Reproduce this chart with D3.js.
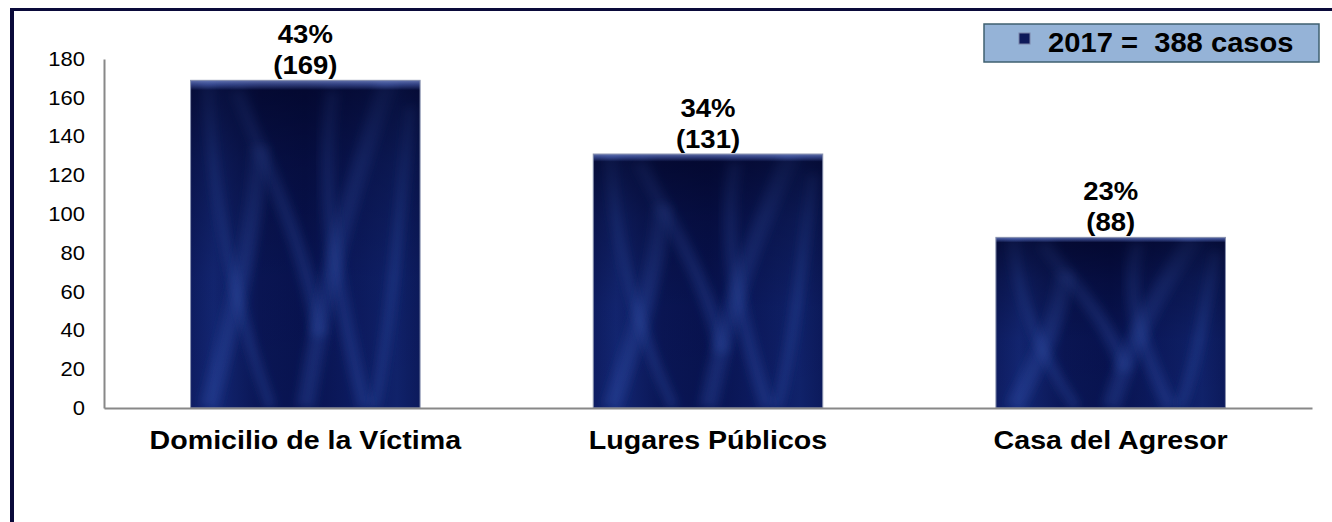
<!DOCTYPE html>
<html><head><meta charset="utf-8">
<script src="https://cdn.jsdelivr.net/npm/d3@7"></script>
<style>body{margin:0;background:#fff}svg{display:block}text{font-family:Arial,"Liberation Sans",sans-serif}</style>
</head><body><svg id="c" width="1332" height="522"></svg>
<script>
const categories = ["Domicilio de la Víctima", "Lugares Públicos", "Casa del Agresor"];
const values = [169, 131, 88];
const percents = ["43%", "34%", "23%"];
const yTicks = [0, 20, 40, 60, 80, 100, 120, 140, 160, 180];
const legendLabel = "2017 =  388 casos";

const svg = d3.select("#c");
const W = 1332, H = 522;
const FONT = "Arial, 'Liberation Sans', sans-serif";
const SX = 1.1; // horizontal stretch of the reference's text
const m = {left: 104, right: 20, top: 59, bottom: 114};
const x = d3.scaleBand().domain(categories).range([m.left, W - m.right]).paddingInner(0.43).paddingOuter(0.215);
const y = d3.scaleLinear().domain([0, 180]).range([H - m.bottom, m.top]);

// frame
svg.append("line").attr("x1", 10).attr("x2", W).attr("y1", 9.5).attr("y2", 9.5).attr("stroke", "#0a0a3a").attr("stroke-width", 3);
svg.append("line").attr("x1", 12).attr("x2", 12).attr("y1", 8).attr("y2", H).attr("stroke", "#0a0a3a").attr("stroke-width", 4);

const defs = svg.append("defs");
const g = defs.append("linearGradient").attr("id", "bar").attr("x1", 0).attr("x2", 1).attr("y1", 0).attr("y2", 0);
[[0, "#0e1d63"], [0.1, "#132672"], [0.3, "#0a1655"], [0.5, "#081350"], [0.7, "#0c1a5e"], [0.9, "#10226a"], [1, "#0c1a5c"]]
  .forEach(([o, c]) => g.append("stop").attr("offset", o).attr("stop-color", c));
const gv = defs.append("linearGradient").attr("id", "shade").attr("x1", 0).attr("x2", 0).attr("y1", 0).attr("y2", 1);
[[0, "#8a9ad0", 0.7], [0.012, "#5a6aa8", 0.5], [0.03, "#000018", 0.55], [0.25, "#000018", 0.3], [0.6, "#000018", 0.05], [1, "#000018", 0]]
  .forEach(([o, c, a]) => gv.append("stop").attr("offset", o).attr("stop-color", c).attr("stop-opacity", a));
defs.append("filter").attr("id", "blur").attr("x", -0.3).attr("y", -0.3).attr("width", 1.6).attr("height", 1.6)
  .append("feGaussianBlur").attr("stdDeviation", 5);

// y axis
const yAxis = d3.axisLeft(y).tickValues(yTicks).tickSize(0).tickPadding(19 / SX);
const ya = svg.append("g").attr("transform", `translate(${m.left},0)`).call(yAxis);
ya.attr("font-family", FONT);
ya.select(".domain").attr("stroke", "#888").attr("stroke-width", 2);
ya.selectAll("text").attr("font-size", 20).attr("fill", "#000").attr("transform", `scale(${SX},1)`);

// bars
const streaks = [
  [[0.07, 0], [0.1, 0.4], [0.2, 0.7], [0.35, 1]],
  [[0.2, 0.03], [0.35, 0.3], [0.5, 0.5], [0.56, 0.78]],
  [[0.86, 0], [0.72, 0.3], [0.6, 0.55], [0.5, 1]],
  [[0.96, 0.08], [0.9, 0.5], [0.86, 0.8], [0.8, 1]],
  [[0.62, 0.03], [0.56, 0.3], [0.62, 0.6], [0.76, 1]],
  [[0.3, 0.2], [0.28, 0.5], [0.15, 0.8], [0.08, 1]]
];
const bars = svg.append("g");
values.forEach((v, i) => {
  const bx = x(categories[i]), bw = x.bandwidth(), by = y(v), bh = y(0) - y(v);
  defs.append("clipPath").attr("id", "clip" + i).append("rect").attr("x", bx).attr("y", by).attr("width", bw).attr("height", bh);
  const bg = bars.append("g");
  bg.append("rect").attr("x", bx).attr("y", by).attr("width", bw).attr("height", bh).attr("fill", "url(#bar)");
  const sg = bg.append("g").attr("clip-path", `url(#clip${i})`);
  streaks.forEach((s, k) => {
    const p = s.map(([u, w]) => [bx + u * bw, by + w * bh]);
    sg.append("path").attr("d", `M${p[0]}C${p[1]} ${p[2]} ${p[3]}`)
      .attr("fill", "none").attr("stroke", "#3a5cb8").attr("stroke-opacity", 0.3)
      .attr("stroke-width", 10 + (k % 3) * 4).attr("filter", "url(#blur)");
  });
  bg.append("rect").attr("x", bx).attr("y", by).attr("width", bw).attr("height", bh).attr("fill", "url(#shade)");
  bg.append("rect").attr("x", bx).attr("y", by).attr("width", bw).attr("height", bh)
    .attr("fill", "none").attr("stroke", "#8a93b0").attr("stroke-width", 1);
});

// x axis
const xAxis = d3.axisBottom(x).tickSize(0).tickPadding(0);
const xa = svg.append("g").attr("transform", `translate(0,${y(0)})`).call(xAxis);
xa.attr("font-family", FONT);
xa.select(".domain").attr("stroke", "#888").attr("stroke-width", 2);
xa.selectAll("text").attr("font-size", 26).attr("font-weight", "bold").attr("fill", "#000")
  .attr("y", 0).attr("dy", null).attr("transform", `translate(0,41) scale(${SX},1)`);

// labels
const lab = svg.append("g").attr("font-family", FONT);
values.forEach((v, i) => {
  const cx = x(categories[i]) + x.bandwidth() / 2;
  lab.append("text").attr("transform", `translate(${cx},${y(v) - 37}) scale(${SX},1)`).attr("text-anchor", "middle")
    .attr("font-size", 25).attr("font-weight", "bold").text(percents[i]);
  lab.append("text").attr("transform", `translate(${cx},${y(v) - 6}) scale(${SX},1)`).attr("text-anchor", "middle")
    .attr("font-size", 25).attr("font-weight", "bold").text("(" + v + ")");
});

// legend
const lg = svg.append("g").attr("transform", "translate(984,24)");
lg.append("rect").attr("width", 335).attr("height", 38).attr("fill", "#95b3d7").attr("stroke", "#3f6070").attr("stroke-width", 1.5);
lg.append("rect").attr("x", 35).attr("y", 9).attr("width", 11).attr("height", 11).attr("fill", "#0e1a5a").attr("stroke", "#7a84a8");
lg.append("text").attr("transform", "translate(64,28) scale(1.08,1)").attr("font-family", FONT).attr("font-size", 27).attr("font-weight", "bold")
  .style("white-space", "pre").text(legendLabel);
</script></body></html>
